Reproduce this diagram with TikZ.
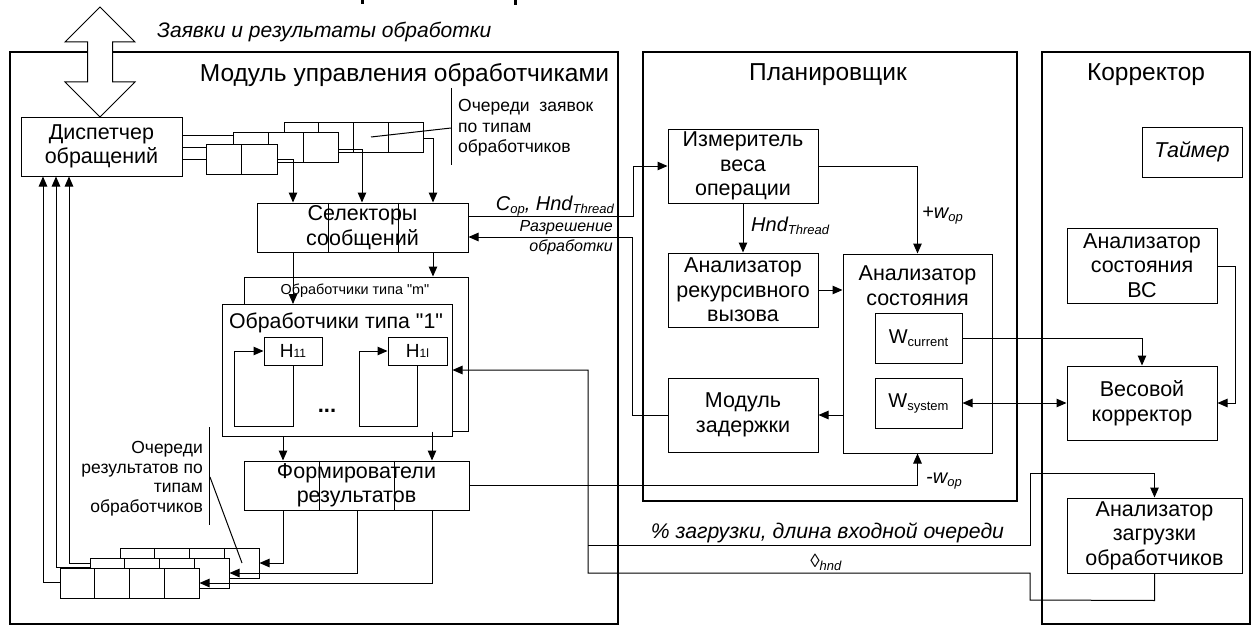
\documentclass[tikz,border=0pt]{standalone}
\usepackage{fontspec}
\setmainfont{Liberation Sans}
\newfontfamily\qfont{Liberation Sans}
\usetikzlibrary{arrows.meta}
\newcommand\lowsub[2][13]{\raisebox{-3pt}{\fontsize{#1}{#1}\selectfont #2}}
\newcommand\sq{{\qfont"}}
\begin{document}
\begin{tikzpicture}[x=1pt,y=-1pt,
  box/.style={draw, line width=1pt, inner sep=0pt, align=center, font=\fontsize{21.5}{24.5}\selectfont},
  frame/.style={draw, line width=2pt, inner sep=0pt},
  cell/.style={draw, line width=1pt, fill=white, inner sep=0pt, minimum width=34.75pt, minimum height=30pt},
  ln/.style={line width=1pt},
  arr/.style={line width=1pt, -{Triangle[length=10pt,width=8.5pt]}},
  arrb/.style={line width=1pt, {Triangle[length=10pt,width=8.5pt]}-{Triangle[length=10pt,width=8.5pt]}},
  ttl/.style={inner sep=0pt, font=\fontsize{24.5}{26}\selectfont},
  ann/.style={inner sep=0pt, font=\fontsize{17.5}{19.5}\selectfont},
  lab/.style={inner sep=0pt, font=\fontsize{20}{22}\selectfont\itshape}
]
\useasboundingbox (0,0) rectangle (1251,626);
% cut-off fragments at the top edge
\fill (361,0) rectangle (364,4);
\fill (514,0) rectangle (517,5);

% outer frames
\node[frame, minimum width=608pt, minimum height=572pt] (mod) at (314,338) {};
\node[frame, minimum width=374pt, minimum height=449pt] (plan) at (830,276.5) {};
\node[frame, minimum width=208pt, minimum height=572pt] (korr) at (1146,338) {};
\node[ttl] (tmod) at (404.5,75) {Модуль управления обработчиками};
\node[ttl] (tplan) at (828,75) {Планировщик};
\node[ttl] (tkorr) at (1146,75) {Корректор};

% dispatcher
\node[box, minimum width=161pt, minimum height=59pt] (disp) at (101.5,146.5) {Диспетчер\\обращений};

% big double arrow
\draw[line width=1pt, fill=white] (100,7) -- (135,42) -- (112.5,42) -- (112.5,82) -- (135,82) -- (100,117)
  -- (65,82) -- (87.5,82) -- (87.5,42) -- (65,42) -- cycle;
\node[lab, anchor=west, font=\fontsize{21}{22}\selectfont\itshape] (zayavki) at (157,32) {Заявки и результаты обработки};

% request queues
\draw[ln] ([yshift=11.5pt]disp.east) -- (233,135);
\draw[ln] ([yshift=-0.5pt]disp.east) -- (206,147);
\draw[ln] ([yshift=-12.5pt]disp.east) -- (206,159);
\foreach \i in {1,...,4} \node[cell] (qa\i) at ({284+34.75*(\i-0.5)},137) {};
\foreach \i in {1,2,3} \node[cell, minimum width=35pt] (qb\i) at ({233+35*(\i-0.5)},147) {};
\foreach \i in {1,2} \node[cell, minimum width=35.5pt] (qc\i) at ({206+35.5*(\i-0.5)},159) {};

% selectors
\node[box, minimum width=211pt, minimum height=49pt] (sel) at (362.5,227.5) {Селекторы\\сообщений};
\draw[ln] ([xshift=-34.5pt]sel.north) -- ([xshift=-34.5pt]sel.south);
\draw[ln] ([xshift=35.5pt]sel.north) -- ([xshift=35.5pt]sel.south);
\draw[arr] (qc2.east) -| ([xshift=-69.5pt]sel.north);
\draw[arr] ([yshift=-2pt]qb3.east) -| ([xshift=-0.5pt]sel.north);
\draw[arr] ([yshift=-1pt]qa4.east) -| ([xshift=70.5pt]sel.north);

% annotation of request queues
\node[ann, anchor=west, align=left, font=\fontsize{17.5}{20.5}\selectfont] (ann1) at (458,128) {Очереди\ \ заявок\\по типам\\обработчиков};
\draw[ln] (451,88) -- (451,165);
\coordinate (p1) at (371,137);
\draw[ln] (451,128) -- (p1);

% handlers
\node[draw, line width=1pt, fill=white, minimum width=224pt, minimum height=154pt] (hm) at (356,354) {};
\node[inner sep=0pt, font=\fontsize{14.4}{15}\selectfont] (hmt) at (355,291) {Обработчики типа \sq m\sq};
\draw[arr] ([xshift=-69.5pt]sel.south) -- (293,304);
\draw[arr] ([xshift=70.5pt]sel.south) -- ([xshift=70.5pt]sel.south |- hm.north);
\node[draw, line width=1pt, fill=white, minimum width=230pt, minimum height=132pt] (h1) at (337,370) {};
\node[inner sep=0pt, font=\fontsize{21.3}{22}\selectfont] (h1t) at (336,323) {Обработчики типа \sq 1\sq};
\node[box, minimum width=58pt, minimum height=28pt] (H11) at (293,351) {{\fontsize{19}{19}\selectfont H}{\fontsize{12}{12}\selectfont 11}};
\node[box, minimum width=59pt, minimum height=28pt] (H1l) at (417.5,351) {{\fontsize{19}{19}\selectfont H}{\fontsize{12}{12}\selectfont 1l}};
\draw[arr] (H11.south) -- (293,426) -- (234,426) |- (H11.west);
\draw[arr] (H1l.south) -- (417.5,426) -- (359,426) |- (H1l.west);
\node[inner sep=0pt, font=\fontsize{22}{22}\selectfont\bfseries] (dots) at (327,411) {...};

% result formers
\node[box, minimum width=225pt, minimum height=49pt] (form) at (356.5,485.5) {Формирователи\\результатов};
\draw[ln] ([xshift=-37.5pt]form.north) -- ([xshift=-37.5pt]form.south);
\draw[ln] ([xshift=37.5pt]form.north) -- ([xshift=37.5pt]form.south);
\draw[arr] ([xshift=-54pt]h1.south) -- ([xshift=-54pt]h1.south |- form.north);
\draw[arr] ([xshift=76pt]hm.south) -- ([xshift=76pt]hm.south |- form.north);

% result queues
\coordinate (ra0) at (120,563);
\coordinate (rb0) at (90,567);
\coordinate (rc0) at (60,582);
\draw[arr] (ra0) -| ([xshift=-32.5pt]disp.south);
\draw[arr] (rb0) -| ([xshift=-45.5pt]disp.south);
\draw[arr] (rc0) -| ([xshift=-58.5pt]disp.south);
\foreach \i in {1,...,4} \node[cell] (ra\i) at ({120+34.75*(\i-0.5)},563) {};
\foreach \i in {1,...,4} \node[cell] (rb\i) at ({90+34.75*(\i-0.5)},573) {};
\foreach \i in {1,...,4} \node[cell] (rc\i) at ({60+34.75*(\i-0.5)},583) {};
\draw[arr] ([xshift=-73.5pt]form.south) |- (ra4.east);
\draw[arr] ([xshift=0.5pt]form.south) |- (rb4.east);
\draw[arr] ([xshift=75.5pt]form.south) |- (rc4.east);

% annotation of result queues
\node[ann, anchor=east, align=right] (ann2) at (203,478.5) {Очереди\\результатов по\\типам\\обработчиков};
\draw[ln] (209,427) -- (209,525);
\coordinate (p2) at (242,563);
\draw[ln] (210,477) -- (p2);

% planner
\node[box, minimum width=150pt, minimum height=74pt] (izm) at (743,166) {Измеритель\\веса\\операции};
\node[box, minimum width=150pt, minimum height=74pt] (rek) at (743,290) {Анализатор\\рекурсивного\\вызова};
\node[box, minimum width=150pt, minimum height=74pt] (zad) at (743,415) {Модуль\\задержки};
\node[draw, line width=1pt, minimum width=149pt, minimum height=199pt] (sost) at (917.5,353.5) {};
\node[inner sep=0pt, align=center, font=\fontsize{21.5}{25}\selectfont] (sostt) at (917.5,285.5) {Анализатор\\состояния};
\node[box, minimum width=87pt, minimum height=50pt] (wcur) at (918.5,338) {{\fontsize{20}{20}\selectfont W}\lowsub{current}};
\node[box, minimum width=87pt, minimum height=50pt] (wsys) at (918.5,403) {{\fontsize{20}{20}\selectfont W}\lowsub{system}};

\draw[arr] ([yshift=11.5pt]sel.east) -- ++(165,0) |- (izm.west);
\node[lab, anchor=east] (lcop) at (614,206) {C\lowsub{op}, Hnd\lowsub{Thread}};
\draw[arr] (zad.west) -- ++(-35,0) |- ([yshift=-9.5pt]sel.east);
\node[inner sep=0pt, anchor=east, align=right, font=\fontsize{16}{20}\selectfont\itshape] (lraz) at (613,238) {Разрешение\\обработки};
\draw[arr] (izm.south) -- (rek.north);
\node[lab, anchor=west] (lhnd) at (751,226) {Hnd\lowsub{Thread}};
\draw[arr] (rek.east) -- (rek.east -| sost.west);
\draw[arr] (izm.east) -| (sost.north);
\node[lab, anchor=west] (lwp) at (922,216) {+w\lowsub{op}};
\draw[arr] (sost.west |- zad.east) -- (zad.east);
\draw[arr] (form.east) -| (sost.south);
\node[lab, anchor=west] (lwm) at (926,481) {-w\lowsub{op}};

% corrector
\node[box, minimum width=100pt, minimum height=50pt, font=\fontsize{21.5}{22}\selectfont\itshape] (timer) at (1192,152) {Таймер};
\node[box, minimum width=150pt, minimum height=75pt] (vs) at (1142,265.5) {Анализатор\\состояния\\ВС};
\node[box, minimum width=150pt, minimum height=74pt] (ves) at (1142,403) {Весовой\\корректор};
\node[box, minimum width=175pt, minimum height=75pt] (zagr) at (1154.5,535.5) {Анализатор\\загрузки\\обработчиков};
\draw[arr] (wcur.east) -| (ves.north);
\draw[arrb] (wsys.east) -- (ves.west);
\draw[arr] ([yshift=-0.5pt]vs.east) -- ++(18,0) |- (ves.east);

% load lines
\coordinate (j1) at (588,545);
\draw[arr] (zagr.south) -- ++(0,27) -- (1030,600) -- (1030,573) -- (588,573) |- (h1.east);
\draw[arr] (j1) -- (1030,545) -- (1030,473) -| (zagr.north);
\node[lab, font=\fontsize{21.2}{22}\selectfont\itshape] (lzagr) at (827.5,533) {\% загрузки, длина входной очереди};
\node[lab, anchor=west] (ltheta) at (810,562) {{\fontsize{19}{16}\selectfont ◊}\lowsub{hnd}};
\end{tikzpicture}
\end{document}
